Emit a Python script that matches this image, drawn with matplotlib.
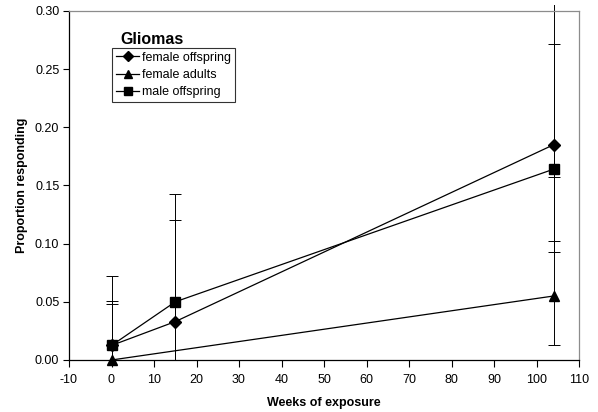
import matplotlib
matplotlib.use("Agg")
import matplotlib.pyplot as plt
from matplotlib.transforms import Bbox, TransformedBbox
import numpy as np

plt.rcParams['font.family'] = ['Liberation Sans', 'DejaVu Sans']
plt.rcParams['axes.unicode_minus'] = False

# Proportion of animals with gliomas by weeks of exposure
weeks_offspring = [0, 15, 104]
weeks_adults = [0, 104]

female_offspring = [0.0125, 0.033, 0.185]
female_off_lower = [0.0, 0.0, 0.0926]
female_off_upper = [0.051, 0.120, 0.272]

female_adults = [0.0, 0.055]
female_ad_lower = [0.0, 0.0126]
female_ad_upper = [0.048, 0.157]

male_offspring = [0.0125, 0.050, 0.164]
male_off_lower = [0.0, 0.0, 0.102]
male_off_upper = [0.072, 0.1425, 0.330]

series = [
    ("female offspring", weeks_offspring, female_offspring, female_off_lower, female_off_upper, "D", 6.0),
    ("female adults", weeks_adults, female_adults, female_ad_lower, female_ad_upper, "^", 7.5),
    ("male offspring", weeks_offspring, male_offspring, male_off_lower, male_off_upper, "s", 7.5),
]

fig = plt.figure(figsize=(5.98, 4.12), dpi=100)
ax = fig.add_axes([69 / 598, 1 - 360 / 412, 510 / 598, 349 / 412])

# error bars may run a little past the top of the plot area
clip = TransformedBbox(Bbox([[-0.1, -0.1], [1.1, 1.017]]), ax.transAxes)

handles = []
for label, x, y, lo, hi, mk, ms in series:
    y = np.array(y)
    yerr = np.vstack([y - np.array(lo), np.array(hi) - y])
    eb = ax.errorbar(x, y, yerr=yerr, fmt="none", ecolor="black", elinewidth=0.7,
                     capsize=4, capthick=0.7, zorder=2)
    for art in eb.get_children():
        art.set_clip_on(True)
        art.set_clip_box(clip)
    h, = ax.plot(x, y, color="black", lw=0.9, marker=mk, markersize=ms,
                 markerfacecolor="black", markeredgecolor="black",
                 clip_on=False, zorder=3, label=label)
    handles.append(h)

ax.set_xlim(-10, 110)
ax.set_ylim(0, 0.30)
ax.set_xticks(np.arange(-10, 111, 10))
ax.set_yticks(np.arange(0, 0.301, 0.05))
ax.set_yticklabels([f"{v:.2f}" for v in np.arange(0, 0.301, 0.05)])

for s in ("top", "right"):
    ax.spines[s].set_color("#8c8c8c")
    ax.spines[s].set_linewidth(0.9)
for s in ("left", "bottom"):
    ax.spines[s].set_color("black")
    ax.spines[s].set_linewidth(0.9)

ax.tick_params(axis="both", direction="out", length=4, width=0.8,
               labelsize=9, colors="black", pad=3)
ax.tick_params(axis="x", length=5, pad=5)

ax.set_xlabel("Weeks of exposure", fontsize=9, fontweight="bold", labelpad=8)
ax.set_ylabel("Proportion responding", fontsize=9, fontweight="bold", labelpad=5)

leg = fig.legend(handles=handles, loc="upper left",
                 bbox_to_anchor=(112 / 598, 1 - 48 / 412),
                 fontsize=9, frameon=True, fancybox=False, borderaxespad=0,
                 handlelength=1.9, handletextpad=0.2, borderpad=0.3,
                 labelspacing=0.42, markerscale=0.8)
leg.get_frame().set_edgecolor("black")
leg.get_frame().set_linewidth(0.8)
leg.get_frame().set_facecolor("white")

fig.text(120 / 598, 1 - 40 / 412, "Gliomas", fontsize=11.5, fontweight="bold",
         ha="left", va="center")

fig.savefig("out.png", dpi=100)
